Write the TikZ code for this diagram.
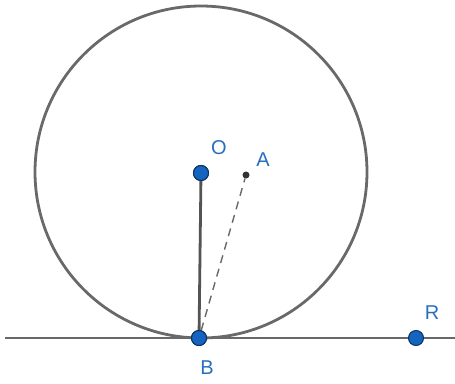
\documentclass[tikz,border=0pt]{standalone}
\usepackage{fontspec}
\setmainfont{Liberation Sans}
\definecolor{ptblue}{RGB}{21,101,192}
\definecolor{ptedge}{RGB}{10,50,100}
\definecolor{lblblue}{RGB}{40,110,190}
\definecolor{geogray}{RGB}{105,105,105}

\begin{document}
\begin{tikzpicture}[x=1pt, y=-1pt,
    pt/.style={circle, fill=ptblue, draw=ptedge, line width=1pt, inner sep=0pt, minimum size=15pt},
    lbl/.style={text=lblblue, font=\fontsize{20}{22}\selectfont}]
  \useasboundingbox (0,0) rectangle (455,383);
  % The circle and the tangent line at B.
  \draw[geogray, line width=2.8pt] (201,172) circle (166);
  \coordinate (L) at (5,338);
  \coordinate (E) at (455,338);
  \draw[geogray, line width=2.8pt] (L) -- (E);
  % Points.
  \node[pt] (B) at (199,338) {};
  \node[pt] (O) at (201,173) {};
  \node[pt] (R) at (416,338) {};
  \node[circle, fill=black!80, inner sep=0pt, minimum size=7pt] (A) at (246,175) {};
  % Radius OB and dashed segment BA.
  \draw[geogray!80!black, line width=2.8pt] (O) -- (B);
  \draw[geogray, line width=1.4pt, dash pattern=on 8pt off 6pt] (B) -- (A);
  \node[pt] at (B) {};
  \node[pt] at (O) {};
  % Labels.
  \node[lbl] (lO) at (219,148) {O};
  \node[lbl] (lA) at (263,160) {A};
  \node[lbl] (lB) at (207,368) {B};
  \node[lbl] (lR) at (432,313) {R};
\end{tikzpicture}
\end{document}
